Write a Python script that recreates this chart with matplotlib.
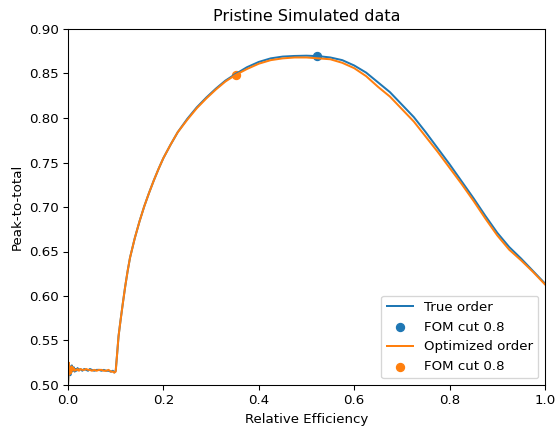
import matplotlib.pyplot as plt

# Relative efficiency grid and peak-to-total values
eff = [0.000, 0.001, 0.002, 0.003, 0.004, 0.005, 0.006, 0.007, 0.008, 0.010,
       0.012, 0.014, 0.016, 0.018, 0.020, 0.023, 0.026, 0.030, 0.034, 0.038,
       0.042, 0.046, 0.050, 0.055, 0.060, 0.065, 0.070, 0.075, 0.080, 0.085,
       0.090, 0.094, 0.097, 0.100,
       0.103, 0.106, 0.110, 0.115, 0.120, 0.125, 0.130, 0.140, 0.150, 0.160,
       0.170, 0.180, 0.190, 0.200, 0.215, 0.230, 0.250, 0.270, 0.290, 0.310,
       0.330, 0.350, 0.375, 0.400, 0.425, 0.450, 0.475, 0.500, 0.525, 0.550,
       0.575, 0.600, 0.625, 0.650, 0.675, 0.700, 0.725, 0.750, 0.775, 0.800,
       0.825, 0.850, 0.875, 0.900, 0.925, 0.950, 0.975, 1.000]

ptt_true = [0.500, 0.512, 0.523, 0.514, 0.521, 0.511, 0.519, 0.515, 0.522, 0.516,
            0.520, 0.515, 0.518, 0.516, 0.519, 0.517, 0.518, 0.516, 0.518, 0.517,
            0.516, 0.518, 0.517, 0.516, 0.517, 0.517, 0.516, 0.517, 0.516, 0.516,
            0.515, 0.516, 0.514, 0.516,
            0.535, 0.555, 0.572, 0.592, 0.611, 0.628, 0.643, 0.665, 0.684, 0.701,
            0.716, 0.730, 0.743, 0.755, 0.770, 0.784, 0.799, 0.812, 0.823, 0.833,
            0.842, 0.849, 0.857, 0.863, 0.867, 0.869, 0.8697, 0.870, 0.8695, 0.868,
            0.865, 0.859, 0.851, 0.840, 0.829, 0.815, 0.801, 0.784, 0.766, 0.748,
            0.729, 0.710, 0.690, 0.671, 0.655, 0.642, 0.628, 0.614]

ptt_opt = [0.500, 0.514, 0.525, 0.512, 0.520, 0.513, 0.518, 0.514, 0.521, 0.517,
           0.519, 0.516, 0.517, 0.517, 0.518, 0.516, 0.518, 0.517, 0.517, 0.518,
           0.517, 0.517, 0.516, 0.517, 0.516, 0.517, 0.517, 0.516, 0.516, 0.517,
           0.515, 0.515, 0.514, 0.515,
           0.535, 0.555, 0.572, 0.592, 0.611, 0.628, 0.643, 0.665, 0.684, 0.701,
           0.716, 0.730, 0.743, 0.755, 0.770, 0.784, 0.798, 0.811, 0.822, 0.832,
           0.841, 0.848, 0.855, 0.861, 0.865, 0.867, 0.868, 0.868, 0.867, 0.866,
           0.862, 0.856, 0.847, 0.835, 0.824, 0.810, 0.796, 0.779, 0.762, 0.744,
           0.726, 0.707, 0.687, 0.668, 0.652, 0.640, 0.627, 0.613]

# FOM cut 0.8 points
fom_true = (0.521, 0.870)
fom_opt = (0.352, 0.848)

fig = plt.figure(figsize=(555 / 96, 427 / 96), dpi=96)
ax = fig.add_subplot(111)
fig.subplots_adjust(left=68 / 555, right=545 / 555, bottom=1 - 385 / 427, top=1 - 29 / 427)

ax.plot(eff, ptt_true, color='C0', label='True order')
ax.scatter(*fom_true, color='C0', label='FOM cut 0.8')
ax.plot(eff, ptt_opt, color='C1', label='Optimized order')
ax.scatter(*fom_opt, color='C1', label='FOM cut 0.8')

ax.set_xlim(0, 1)
ax.set_ylim(0.5, 0.9)
ax.set_xlabel('Relative Efficiency')
ax.set_ylabel('Peak-to-total')
ax.set_title('Pristine Simulated data')
ax.legend(loc='lower right')

fig.savefig('out.png', dpi=96)
